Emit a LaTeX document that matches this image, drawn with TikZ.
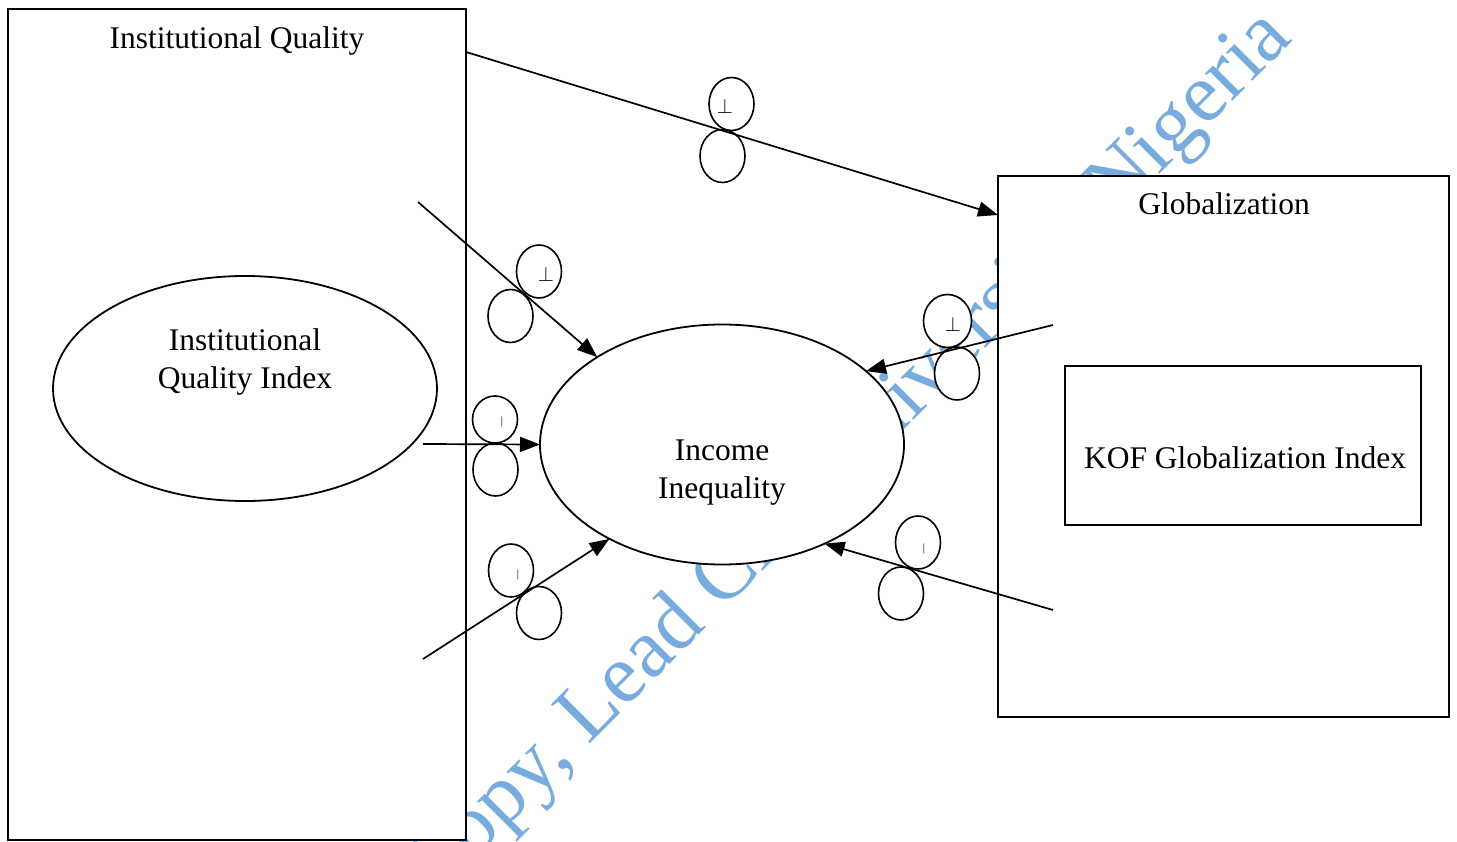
\documentclass[tikz,border=0pt]{standalone}
\usepackage{fontspec}
\setmainfont{Liberation Serif}
\usetikzlibrary{arrows.meta,shapes.geometric}
\definecolor{wmblue}{RGB}{120,172,222}
\begin{document}
\begin{tikzpicture}[x=1pt,y=-1pt,
  box/.style={draw,line width=1.8pt,fill=white,inner sep=0pt,outer sep=0pt,anchor=north west},
  oval/.style={draw,ellipse,line width=1.8pt,fill=white,inner sep=0pt,outer sep=0pt},
  bub/.style={draw,ellipse,line width=1.6pt,fill=white,inner sep=0pt,outer sep=0pt,minimum width=45pt,minimum height=53pt},
  lbl/.style={font=\fontsize{31.5}{38}\selectfont,inner sep=0pt,anchor=base},
  mlbl/.style={font=\fontsize{31.5}{38}\selectfont,inner sep=0pt,align=center},
  sym/.style={font=\fontsize{22}{22}\selectfont,inner sep=0pt},
  tick/.style={font=\fontsize{11}{11}\selectfont,inner sep=0pt},
  conn/.style={line width=1.7pt,-{Triangle[length=20pt,width=15pt]}},
  wmark/.style={font=\fontsize{84}{84}\selectfont,text=wmblue,inner sep=0pt,rotate=45,anchor=base west}
]
\useasboundingbox[fill=white] (0,0) rectangle (1457,842);

% watermark
\node[wmark] (wm) at (434,900) {Copy, Lead City University, Nigeria};

% boxes and ovals
\node[box,minimum width=458pt,minimum height=831pt] (iq) at (8,9) {};
\node[box,minimum width=451pt,minimum height=541pt] (glob) at (998,176) {};
\node[box,minimum width=356pt,minimum height=159pt] (kof) at (1065,366) {};
\node[oval,minimum width=384pt,minimum height=225pt] (iqi) at (245,388.5) {};
\node[oval,minimum width=364pt,minimum height=240pt] (inc) at (722,444.5) {};

% texts
\node[lbl] (iqt) at (237,49) {Institutional Quality};
\node[mlbl] (iqit) at (245,361.5) {Institutional\\Quality Index};
\node[mlbl] (inct) at (722,473) {Income\\Inequality};
\node[lbl] (globt) at (1224,215) {Globalization};
\node[lbl] (koft) at (1245,468) {KOF Globalization Index};

% bubbles
\node[bub] (p1u) at (731.5,104) {};
\node[bub] (p1l) at (722.5,156) {};
\node[bub] (p2u) at (539,271.5) {};
\node[bub] (p2l) at (510.5,316) {};
\node[bub,minimum height=47pt] (p3u) at (495,419.5) {};
\node[bub] (p3l) at (495.5,469.5) {};
\node[bub] (p4u) at (511,570.5) {};
\node[bub] (p4l) at (539,613) {};
\node[bub,minimum width=48pt] (p5u) at (947.5,321) {};
\node[bub] (p5l) at (957,373.5) {};
\node[bub] (p6u) at (918,542.5) {};
\node[bub] (p6l) at (901,593.5) {};

\node[sym] (s1t) at (725,106) {$\perp$};
\node[sym] (s2t) at (546,274) {$\perp$};
\node[sym] (s5t) at (953,324) {$\perp$};
\node[tick] (s3t) at (502,421.5) {|};
\node[tick] (s4t) at (518,574.5) {|};
\node[tick] (s6t) at (924,549) {|};

% connectors
\coordinate (a2) at (418,202);
\coordinate (a3) at (423,444);
\coordinate (a4) at (423,659);
\coordinate (a5) at (1053,325);
\coordinate (a6) at (1053,610);
\draw[conn] ([yshift=-43pt]iq.north east) -- ([yshift=-39pt]glob.north west);
\draw[conn] (a2) -- (inc.145);
\draw[conn] (a3) -- (inc.180);
\draw[conn] (a4) -- (inc.220);
\draw[conn] (a5) -- (inc.27);
\draw[conn] (a6) -- (inc.316);
\end{tikzpicture}
\end{document}
